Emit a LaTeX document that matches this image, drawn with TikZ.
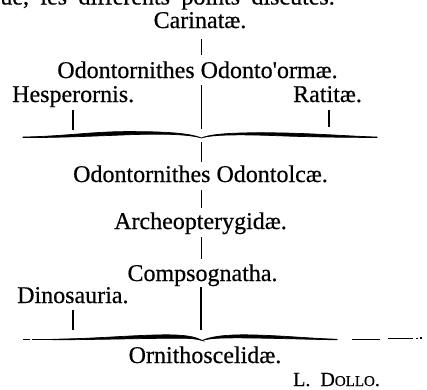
\documentclass[tikz,border=0pt]{standalone}
\usepackage{fontspec}
\setmainfont{Liberation Serif}
\newfontfamily\oldprint[FakeBold=0.5]{Liberation Serif}
\begin{document}
\begin{tikzpicture}[x=1pt,y=-1pt,
  lbl/.style={inner sep=0pt, font=\oldprint\fontsize{24}{24}\selectfont, text height=16pt, text depth=0pt, anchor=base},
  vline/.style={line width=1.4pt},
  bracearm/.style={fill=black, draw=black, line width=0.7pt},
  dashpart/.style={line width=1.2pt},
]
\useasboundingbox (0,0) rectangle (427,389);
\clip (0,0) rectangle (427,389);

% labels
\node[lbl,anchor=base east] (top) at (335,4.5) {ue,\hspace{11.4pt}les\hspace{11.4pt}différents\hspace{11.4pt}points\hspace{11.4pt}discutés.};
\node[lbl] (car) at (200,28) {Carinatæ.};
\node[lbl] (oo) at (197.5,78) {Odontornithes Odonto'ormæ.};
\node[lbl,anchor=base west] (hes) at (12,102) {Hesperornis.};
\node[lbl,anchor=base west] (rat) at (293,102) {Ratitæ.};
\node[lbl] (ooo) at (200.5,182) {Odontornithes Odontolcæ.};
\node[lbl] (arch) at (200.5,229) {Archeopterygidæ.};
\node[lbl] (comp) at (202.5,281) {Compsognatha.};
\node[lbl,anchor=base west] (dino) at (17,303) {Dinosauria.};
\node[lbl] (orn) at (205,363) {Ornithoscelidæ.};
\node[anchor=base west, inner sep=0pt, font=\oldprint\fontsize{20}{20}\selectfont] (dollo) at (293,386) {L.\ \ D{\fontsize{15}{15}\selectfont OLLO}.};

% brace anchor points
\coordinate (b1c) at (201.5,138);
\coordinate (b1l) at (73,134.5);
\coordinate (b1r) at (329,135);
\coordinate (b2c) at (201,340);
\coordinate (b2l) at (73,339);

% upper brace
\fill[bracearm] (23,137) .. controls (60,136.5) and (90,132) .. (122,131.6)
  .. controls (160,131.4) and (188,132.5) .. (b1c)
  .. controls (188,134) and (160,133.4) .. (122,135)
  .. controls (90,136.2) and (60,137.6) .. (23,137.6) -- cycle;
\fill[bracearm] (b1c) .. controls (212,133) and (245,132.2) .. (285,133)
  .. controls (320,133.8) and (355,136.5) .. (377,137) -- (377,137.5)
  .. controls (355,137.4) and (320,137.2) .. (285,136)
  .. controls (245,134.3) and (212,134.2) .. (b1c) -- cycle;

% lower brace
\fill[bracearm] (53,339.2) .. controls (100,338.5) and (130,335.2) .. (165,334.8)
  .. controls (185,334.8) and (195,336.5) .. (202,340.5)
  .. controls (193,337.8) and (185,338.3) .. (165,338.3)
  .. controls (130,338.6) and (100,339.6) .. (53,339.8) -- cycle;
\fill[bracearm] (202,340.5) .. controls (210,337) and (222,334.8) .. (245,334.8)
  .. controls (280,335.2) and (310,338.5) .. (337,339.2) -- (337,339.8)
  .. controls (310,339.4) and (280,338.3) .. (245,337.9)
  .. controls (222,337.8) and (210,338) .. (202,340.5) -- cycle;
\draw[dashpart] (23,339.3) -- (30,339.3);
\draw[dashpart] (32,339.3) -- (53,339.3);
\draw[dashpart] (352,339.3) -- (380,339.3);
\draw[dashpart] (388,338.5) -- (413,338.5);
\draw[dashpart] (416,338.3) -- (418,338.3);
\draw[dashpart] (420,338) -- (422,338);

% connectors
\draw[vline,shorten <=11pt,shorten >=7pt] (car.south -| b1c) -- (oo.north -| b1c);
\draw[vline,shorten <=7pt,shorten >=9pt] (oo.south -| b1c) -- (b1c);
\draw[vline,shorten <=8pt,shorten >=4.5pt] (hes.south -| b1l) -- (b1l);
\draw[vline,shorten <=8pt,shorten >=8pt] (rat.south -| b1r) -- (b1r);
\draw[vline,shorten <=4pt,shorten >=4pt] (b1c) -- (ooo.north -| b1c);
\draw[vline,shorten <=8pt,shorten >=5pt] (ooo.south -| b1c) -- (arch.north -| b1c);
\draw[vline,shorten <=8pt,shorten >=6pt] (arch.south -| b1c) -- (comp.north -| b1c);
\draw[vline,shorten <=6pt,shorten >=10pt] (comp.south -| b2c) -- (b2c);
\draw[vline,shorten <=7pt,shorten >=9pt] (dino.south -| b2l) -- (b2l);
\end{tikzpicture}
\end{document}
